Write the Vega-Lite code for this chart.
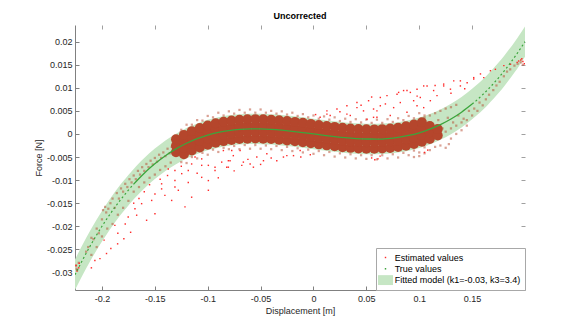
{
  "$schema": "https://vega.github.io/schema/vega-lite/v6.json",
  "autosize": "none",
  "width": 450,
  "height": 265,
  "padding": {"left": 75, "top": 25, "right": 56, "bottom": 37},
  "title": {"text": "Uncorrected", "fontSize": 9, "font": "Liberation Sans", "fontWeight": "bold", "color": "#000000", "offset": 4},
  "config": {
    "view": {"stroke": null},
    "axis": {"labelFont": "Liberation Sans", "labelFontSize": 9, "labelColor": "#262626", "titleFont": "Liberation Sans", "titleFontSize": 9, "titleFontWeight": "normal", "titleColor": "#262626", "domainColor": "#808080", "tickColor": "#808080", "grid": false},
    "legend": {"orient": "bottom-right", "offset": 0, "padding": 4, "strokeColor": "#a8a8a8", "fillColor": "#ffffff", "labelFont": "Liberation Sans", "labelFontSize": 9, "labelColor": "#000000", "labelOffset": 3.7, "rowPadding": 0.3, "symbolSize": 121, "symbolStrokeWidth": 0, "labelLimit": 0, "symbolOpacity": 1}
  },
  "datasets": {
    "curve": [
      {"x": -0.2255, "c": -0.0305, "lo": -0.0338, "hi": -0.0272},
      {"x": -0.22, "c": -0.02801, "lo": -0.03131, "hi": -0.02471},
      {"x": -0.215, "c": -0.02585, "lo": -0.02915, "hi": -0.02255},
      {"x": -0.21, "c": -0.0238, "lo": -0.0271, "hi": -0.0205},
      {"x": -0.205, "c": -0.02185, "lo": -0.02515, "hi": -0.01855},
      {"x": -0.2, "c": -0.02, "lo": -0.0233, "hi": -0.0167},
      {"x": -0.195, "c": -0.01825, "lo": -0.02155, "hi": -0.01495},
      {"x": -0.19, "c": -0.01659, "lo": -0.01989, "hi": -0.01329},
      {"x": -0.185, "c": -0.01503, "lo": -0.01833, "hi": -0.01173},
      {"x": -0.18, "c": -0.01355, "lo": -0.01685, "hi": -0.01025},
      {"x": -0.175, "c": -0.01217, "lo": -0.01547, "hi": -0.00887},
      {"x": -0.17, "c": -0.01087, "lo": -0.01417, "hi": -0.00757},
      {"x": -0.165, "c": -0.00965, "lo": -0.01295, "hi": -0.00635},
      {"x": -0.16, "c": -0.00851, "lo": -0.01181, "hi": -0.00521},
      {"x": -0.155, "c": -0.00745, "lo": -0.01075, "hi": -0.00415},
      {"x": -0.15, "c": -0.00647, "lo": -0.00977, "hi": -0.00317},
      {"x": -0.14, "c": -0.00472, "lo": -0.00802, "hi": -0.00142},
      {"x": -0.13, "c": -0.00324, "lo": -0.00654, "hi": 0.00006},
      {"x": -0.12, "c": -0.00202, "lo": -0.00532, "hi": 0.00128},
      {"x": -0.11, "c": -0.00103, "lo": -0.00433, "hi": 0.00227},
      {"x": -0.1, "c": -0.00025, "lo": -0.00355, "hi": 0.00305},
      {"x": -0.09, "c": 0.00033, "lo": -0.00297, "hi": 0.00363},
      {"x": -0.08, "c": 0.00074, "lo": -0.00256, "hi": 0.00404},
      {"x": -0.07, "c": 0.00099, "lo": -0.00231, "hi": 0.00429},
      {"x": -0.06, "c": 0.0011, "lo": -0.0022, "hi": 0.0044},
      {"x": -0.05, "c": 0.00109, "lo": -0.00221, "hi": 0.00439},
      {"x": -0.04, "c": 0.00099, "lo": -0.00231, "hi": 0.00429},
      {"x": -0.03, "c": 0.00081, "lo": -0.00249, "hi": 0.00411},
      {"x": -0.02, "c": 0.00057, "lo": -0.00273, "hi": 0.00387},
      {"x": -0.01, "c": 0.0003, "lo": -0.003, "hi": 0.0036},
      {"x": 0, "c": 0, "lo": -0.0033, "hi": 0.0033},
      {"x": 0.01, "c": -0.0003, "lo": -0.0036, "hi": 0.003},
      {"x": 0.02, "c": -0.00057, "lo": -0.00387, "hi": 0.00273},
      {"x": 0.03, "c": -0.00081, "lo": -0.00411, "hi": 0.00249},
      {"x": 0.04, "c": -0.00099, "lo": -0.00429, "hi": 0.00231},
      {"x": 0.05, "c": -0.00109, "lo": -0.00439, "hi": 0.00221},
      {"x": 0.06, "c": -0.0011, "lo": -0.0044, "hi": 0.0022},
      {"x": 0.07, "c": -0.00099, "lo": -0.00429, "hi": 0.00231},
      {"x": 0.08, "c": -0.00074, "lo": -0.00404, "hi": 0.00256},
      {"x": 0.09, "c": -0.00033, "lo": -0.00363, "hi": 0.00297},
      {"x": 0.1, "c": 0.00025, "lo": -0.00305, "hi": 0.00355},
      {"x": 0.11, "c": 0.00103, "lo": -0.00227, "hi": 0.00433},
      {"x": 0.12, "c": 0.00202, "lo": -0.00128, "hi": 0.00532},
      {"x": 0.13, "c": 0.00324, "lo": -0.00006, "hi": 0.00654},
      {"x": 0.14, "c": 0.00472, "lo": 0.00142, "hi": 0.00802},
      {"x": 0.15, "c": 0.00647, "lo": 0.00317, "hi": 0.00977},
      {"x": 0.155, "c": 0.00745, "lo": 0.00415, "hi": 0.01075},
      {"x": 0.16, "c": 0.00851, "lo": 0.00521, "hi": 0.01181},
      {"x": 0.165, "c": 0.00965, "lo": 0.00635, "hi": 0.01295},
      {"x": 0.17, "c": 0.01087, "lo": 0.00757, "hi": 0.01417},
      {"x": 0.175, "c": 0.01217, "lo": 0.00887, "hi": 0.01547},
      {"x": 0.18, "c": 0.01355, "lo": 0.01025, "hi": 0.01685},
      {"x": 0.185, "c": 0.01503, "lo": 0.01173, "hi": 0.01833},
      {"x": 0.19, "c": 0.01659, "lo": 0.01329, "hi": 0.01989},
      {"x": 0.195, "c": 0.01825, "lo": 0.01495, "hi": 0.02155},
      {"x": 0.2, "c": 0.02, "lo": 0.0167, "hi": 0.0233}
    ],
    "core": [
      {"x": -0.13, "y": -0.00394}, {"x": -0.13, "y": -0.00254}, {"x": -0.13, "y": -0.00114},
      {"x": -0.1225, "y": -0.0044}, {"x": -0.1225, "y": -0.003}, {"x": -0.1225, "y": -0.0016}, {"x": -0.1225, "y": -0.0002},
      {"x": -0.115, "y": -0.00359}, {"x": -0.115, "y": -0.00219}, {"x": -0.115, "y": -0.00079}, {"x": -0.115, "y": 0.00061},
      {"x": -0.1075, "y": -0.00291}, {"x": -0.1075, "y": -0.00151}, {"x": -0.1075, "y": -0.00011}, {"x": -0.1075, "y": 0.00129},
      {"x": -0.1, "y": -0.00235}, {"x": -0.1, "y": -0.00095}, {"x": -0.1, "y": 0.00045}, {"x": -0.1, "y": 0.00185},
      {"x": -0.0925, "y": -0.0019}, {"x": -0.0925, "y": -0.0005}, {"x": -0.0925, "y": 0.0009}, {"x": -0.0925, "y": 0.0023},
      {"x": -0.085, "y": -0.00155}, {"x": -0.085, "y": -0.00015}, {"x": -0.085, "y": 0.00125}, {"x": -0.085, "y": 0.00265},
      {"x": -0.0775, "y": -0.00129}, {"x": -0.0775, "y": 0.00011}, {"x": -0.0775, "y": 0.00151}, {"x": -0.0775, "y": 0.00291},
      {"x": -0.07, "y": -0.00111}, {"x": -0.07, "y": 0.00029}, {"x": -0.07, "y": 0.00169}, {"x": -0.07, "y": 0.00309},
      {"x": -0.0625, "y": -0.00102}, {"x": -0.0625, "y": 0.00038}, {"x": -0.0625, "y": 0.00178}, {"x": -0.0625, "y": 0.00318},
      {"x": -0.055, "y": -0.00099}, {"x": -0.055, "y": 0.00041}, {"x": -0.055, "y": 0.00181}, {"x": -0.055, "y": 0.00321},
      {"x": -0.0475, "y": -0.00102}, {"x": -0.0475, "y": 0.00038}, {"x": -0.0475, "y": 0.00178}, {"x": -0.0475, "y": 0.00318},
      {"x": -0.04, "y": -0.00111}, {"x": -0.04, "y": 0.00029}, {"x": -0.04, "y": 0.00169}, {"x": -0.04, "y": 0.00309},
      {"x": -0.0325, "y": -0.00124}, {"x": -0.0325, "y": 0.00016}, {"x": -0.0325, "y": 0.00156}, {"x": -0.0325, "y": 0.00296},
      {"x": -0.025, "y": -0.0014}, {"x": -0.025, "y": 0.0}, {"x": -0.025, "y": 0.0014}, {"x": -0.025, "y": 0.0028},
      {"x": -0.0175, "y": -0.00159}, {"x": -0.0175, "y": -0.00019}, {"x": -0.0175, "y": 0.00121}, {"x": -0.0175, "y": 0.00261},
      {"x": -0.01, "y": -0.0018}, {"x": -0.01, "y": -0.0004}, {"x": -0.01, "y": 0.001}, {"x": -0.01, "y": 0.0024},
      {"x": -0.0025, "y": -0.00202}, {"x": -0.0025, "y": -0.00062}, {"x": -0.0025, "y": 0.00078}, {"x": -0.0025, "y": 0.00218},
      {"x": 0.005, "y": -0.00225}, {"x": 0.005, "y": -0.00085}, {"x": 0.005, "y": 0.00055}, {"x": 0.005, "y": 0.00195},
      {"x": 0.0125, "y": -0.00247}, {"x": 0.0125, "y": -0.00107}, {"x": 0.0125, "y": 0.00033}, {"x": 0.0125, "y": 0.00173},
      {"x": 0.02, "y": -0.00267}, {"x": 0.02, "y": -0.00127}, {"x": 0.02, "y": 0.00013}, {"x": 0.02, "y": 0.00153},
      {"x": 0.0275, "y": -0.00286}, {"x": 0.0275, "y": -0.00146}, {"x": 0.0275, "y": -0.00006}, {"x": 0.0275, "y": 0.00134},
      {"x": 0.035, "y": -0.00301}, {"x": 0.035, "y": -0.00161}, {"x": 0.035, "y": -0.00021}, {"x": 0.035, "y": 0.00119},
      {"x": 0.0425, "y": -0.00313}, {"x": 0.0425, "y": -0.00173}, {"x": 0.0425, "y": -0.00033}, {"x": 0.0425, "y": 0.00107},
      {"x": 0.05, "y": -0.00319}, {"x": 0.05, "y": -0.00179}, {"x": 0.05, "y": -0.00039}, {"x": 0.05, "y": 0.00101},
      {"x": 0.0575, "y": -0.00321}, {"x": 0.0575, "y": -0.00181}, {"x": 0.0575, "y": -0.00041}, {"x": 0.0575, "y": 0.00099},
      {"x": 0.065, "y": -0.00316}, {"x": 0.065, "y": -0.00176}, {"x": 0.065, "y": -0.00036}, {"x": 0.065, "y": 0.00104},
      {"x": 0.0725, "y": -0.00304}, {"x": 0.0725, "y": -0.00164}, {"x": 0.0725, "y": -0.00024}, {"x": 0.0725, "y": 0.00116},
      {"x": 0.08, "y": -0.00284}, {"x": 0.08, "y": -0.00144}, {"x": 0.08, "y": -0.00004}, {"x": 0.08, "y": 0.00136},
      {"x": 0.0875, "y": -0.00255}, {"x": 0.0875, "y": -0.00115}, {"x": 0.0875, "y": 0.00025}, {"x": 0.0875, "y": 0.00165},
      {"x": 0.095, "y": -0.00216}, {"x": 0.095, "y": -0.00076}, {"x": 0.095, "y": 0.00064}, {"x": 0.095, "y": 0.00204},
      {"x": 0.1025, "y": -0.00167}, {"x": 0.1025, "y": -0.00027}, {"x": 0.1025, "y": 0.00113}, {"x": 0.1025, "y": 0.00253},
      {"x": 0.11, "y": -0.00107}, {"x": 0.11, "y": 0.00033}, {"x": 0.11, "y": 0.00173},
      {"x": 0.1175, "y": -0.00035}, {"x": 0.1175, "y": 0.00105}
    ],
    "edge": [
      {"x": -0.125, "y": 0.0009}, {"x": -0.12, "y": 0.002}, {"x": -0.115, "y": 0.002}, {"x": -0.11, "y": 0.003},
      {"x": -0.105, "y": 0.0029}, {"x": -0.1, "y": 0.0039}, {"x": -0.095, "y": 0.0036}, {"x": -0.09, "y": 0.0046},
      {"x": -0.085, "y": 0.004}, {"x": -0.08, "y": 0.0049}, {"x": -0.075, "y": 0.0044}, {"x": -0.07, "y": 0.0052},
      {"x": -0.065, "y": 0.0046}, {"x": -0.06, "y": 0.0053}, {"x": -0.055, "y": 0.0046}, {"x": -0.05, "y": 0.0053},
      {"x": -0.045, "y": 0.0046}, {"x": -0.04, "y": 0.005}, {"x": -0.035, "y": 0.0044}, {"x": -0.03, "y": 0.0049},
      {"x": -0.025, "y": 0.0042}, {"x": -0.02, "y": 0.0046}, {"x": -0.015, "y": 0.0039}, {"x": -0.01, "y": 0.0043},
      {"x": -0.005, "y": 0.0036}, {"x": 0.0, "y": 0.004}, {"x": 0.005, "y": 0.0033}, {"x": 0.01, "y": 0.0038},
      {"x": 0.015, "y": 0.0031}, {"x": 0.02, "y": 0.0036}, {"x": 0.025, "y": 0.0028}, {"x": 0.03, "y": 0.0033},
      {"x": 0.035, "y": 0.0026}, {"x": 0.04, "y": 0.0032}, {"x": 0.045, "y": 0.0025}, {"x": 0.05, "y": 0.0031},
      {"x": 0.055, "y": 0.0024}, {"x": 0.06, "y": 0.0031}, {"x": 0.065, "y": 0.0024}, {"x": 0.07, "y": 0.0032},
      {"x": 0.075, "y": 0.0026}, {"x": 0.08, "y": 0.0034}, {"x": 0.085, "y": 0.003}, {"x": 0.09, "y": 0.0039},
      {"x": 0.095, "y": 0.0034}, {"x": 0.1, "y": 0.0045}, {"x": 0.105, "y": 0.004},
      {"x": -0.125, "y": -0.0061}, {"x": -0.12, "y": -0.0063}, {"x": -0.115, "y": -0.005}, {"x": -0.11, "y": -0.0053},
      {"x": -0.105, "y": -0.0041}, {"x": -0.1, "y": -0.0045}, {"x": -0.095, "y": -0.0034}, {"x": -0.09, "y": -0.0039},
      {"x": -0.085, "y": -0.003}, {"x": -0.08, "y": -0.0033}, {"x": -0.075, "y": -0.0026}, {"x": -0.07, "y": -0.0033},
      {"x": -0.065, "y": -0.0024}, {"x": -0.06, "y": -0.0032}, {"x": -0.055, "y": -0.0024}, {"x": -0.05, "y": -0.0032},
      {"x": -0.045, "y": -0.0025}, {"x": -0.04, "y": -0.0033}, {"x": -0.035, "y": -0.0026}, {"x": -0.03, "y": -0.0035},
      {"x": -0.025, "y": -0.0028}, {"x": -0.02, "y": -0.0037}, {"x": -0.015, "y": -0.0031}, {"x": -0.01, "y": -0.004},
      {"x": -0.005, "y": -0.0034}, {"x": 0.0, "y": -0.0043}, {"x": 0.005, "y": -0.0037}, {"x": 0.01, "y": -0.0046},
      {"x": 0.015, "y": -0.0039}, {"x": 0.02, "y": -0.0049}, {"x": 0.025, "y": -0.0042}, {"x": 0.03, "y": -0.0051},
      {"x": 0.035, "y": -0.0044}, {"x": 0.04, "y": -0.0053}, {"x": 0.045, "y": -0.0046}, {"x": 0.05, "y": -0.0054},
      {"x": 0.055, "y": -0.0046}, {"x": 0.06, "y": -0.0055}, {"x": 0.065, "y": -0.0046}, {"x": 0.07, "y": -0.0053},
      {"x": 0.075, "y": -0.0044}, {"x": 0.08, "y": -0.0051}, {"x": 0.085, "y": -0.0041}, {"x": 0.09, "y": -0.0046},
      {"x": 0.095, "y": -0.0036}, {"x": 0.1, "y": -0.004}, {"x": 0.105, "y": -0.0029},
      {"x": -0.224, "y": -0.0292}, {"x": -0.2245, "y": -0.0285}, {"x": -0.2235, "y": -0.0295}, {"x": -0.222, "y": -0.0279},
      {"x": -0.215, "y": -0.0255}, {"x": -0.213, "y": -0.0245}, {"x": -0.21, "y": -0.0225}, {"x": -0.208, "y": -0.0228},
      {"x": -0.205, "y": -0.0205}, {"x": -0.203, "y": -0.0215}, {"x": -0.2, "y": -0.0185}, {"x": -0.199, "y": -0.0165},
      {"x": -0.197, "y": -0.0158}, {"x": -0.196, "y": -0.017}, {"x": -0.194, "y": -0.0162}, {"x": -0.192, "y": -0.015},
      {"x": -0.19, "y": -0.014}, {"x": -0.188, "y": -0.016}, {"x": -0.186, "y": -0.0128}, {"x": -0.184, "y": -0.014},
      {"x": -0.182, "y": -0.0118}, {"x": -0.18, "y": -0.0125}, {"x": -0.178, "y": -0.0108}, {"x": -0.176, "y": -0.0115},
      {"x": -0.174, "y": -0.0098}, {"x": -0.172, "y": -0.0105}, {"x": -0.17, "y": -0.009}, {"x": -0.168, "y": -0.0098},
      {"x": -0.166, "y": -0.008}, {"x": -0.164, "y": -0.0088}, {"x": -0.162, "y": -0.0072}, {"x": -0.16, "y": -0.008},
      {"x": -0.158, "y": -0.0065}, {"x": -0.156, "y": -0.0072}, {"x": -0.154, "y": -0.0058}, {"x": -0.152, "y": -0.0066},
      {"x": -0.15, "y": -0.0052}, {"x": -0.148, "y": -0.006}, {"x": -0.146, "y": -0.0045}, {"x": -0.144, "y": -0.0052},
      {"x": -0.142, "y": -0.004}, {"x": -0.14, "y": -0.0048}, {"x": -0.138, "y": -0.0032}, {"x": -0.136, "y": -0.0042},
      {"x": -0.134, "y": -0.0028},
      {"x": -0.19, "y": -0.0195}, {"x": -0.185, "y": -0.0175}, {"x": -0.18, "y": -0.016}, {"x": -0.175, "y": -0.0145},
      {"x": -0.17, "y": -0.0125}, {"x": -0.165, "y": -0.0115}, {"x": -0.16, "y": -0.0105}, {"x": -0.155, "y": -0.0095},
      {"x": -0.15, "y": -0.0088}, {"x": -0.145, "y": -0.0078}, {"x": -0.14, "y": -0.007}, {"x": -0.135, "y": -0.0062},
      {"x": -0.21, "y": -0.0262}, {"x": -0.205, "y": -0.0245}, {"x": -0.2, "y": -0.0222}, {"x": -0.195, "y": -0.0205},
      {"x": 0.11, "y": -0.0005}, {"x": 0.112, "y": 0.0022}, {"x": 0.115, "y": 0.0003}, {"x": 0.118, "y": 0.003},
      {"x": 0.12, "y": -0.0002}, {"x": 0.122, "y": 0.0012}, {"x": 0.125, "y": 0.0005}, {"x": 0.127, "y": 0.0035},
      {"x": 0.13, "y": 0.0012}, {"x": 0.132, "y": 0.0025}, {"x": 0.135, "y": 0.0018}, {"x": 0.137, "y": 0.004},
      {"x": 0.14, "y": 0.0025}, {"x": 0.142, "y": 0.0033}, {"x": 0.145, "y": 0.003}, {"x": 0.147, "y": 0.005},
      {"x": 0.15, "y": 0.004}, {"x": 0.152, "y": 0.0055}, {"x": 0.155, "y": 0.005}, {"x": 0.157, "y": 0.0068},
      {"x": 0.16, "y": 0.0062}, {"x": 0.163, "y": 0.0075}, {"x": 0.166, "y": 0.0085}, {"x": 0.17, "y": 0.0095},
      {"x": 0.173, "y": 0.0105}, {"x": 0.176, "y": 0.0113}, {"x": 0.18, "y": 0.0125}, {"x": 0.183, "y": 0.0135},
      {"x": 0.186, "y": 0.014}, {"x": 0.19, "y": 0.0148}, {"x": 0.193, "y": 0.0152}, {"x": 0.196, "y": 0.0155},
      {"x": 0.198, "y": 0.015}, {"x": 0.12, "y": -0.0025}, {"x": 0.125, "y": -0.003}, {"x": 0.13, "y": -0.001},
      {"x": 0.128, "y": -0.0022}, {"x": 0.135, "y": 0.0}, {"x": 0.14, "y": 0.0008}, {"x": 0.145, "y": 0.0018},
      {"x": 0.115, "y": -0.0028}, {"x": 0.11, "y": -0.0035}, {"x": 0.105, "y": -0.0042}, {"x": 0.1, "y": -0.0048},
      {"x": 0.095, "y": -0.005}, {"x": 0.11, "y": 0.004}, {"x": 0.115, "y": 0.0045}, {"x": 0.12, "y": 0.005},
      {"x": 0.125, "y": 0.0055}, {"x": 0.13, "y": 0.0058}, {"x": 0.135, "y": 0.0063}, {"x": 0.105, "y": 0.0035}
    ],
    "sparse": [
      {"x": -0.2067, "y": -0.0274}, {"x": -0.2019, "y": -0.027}, {"x": -0.1957, "y": -0.0259}, {"x": -0.1916, "y": -0.0248},
      {"x": -0.1852, "y": -0.0238}, {"x": -0.1793, "y": -0.0227}, {"x": -0.1729, "y": -0.0213}, {"x": -0.1878, "y": -0.0198},
      {"x": -0.1752, "y": -0.018}, {"x": -0.1672, "y": -0.0176}, {"x": -0.1578, "y": -0.0187}, {"x": -0.1499, "y": -0.0173},
      {"x": -0.1688, "y": -0.0162}, {"x": -0.1625, "y": -0.0151}, {"x": -0.1215, "y": -0.0158}, {"x": -0.153, "y": -0.0144},
      {"x": -0.1341, "y": -0.0144}, {"x": -0.1152, "y": -0.0137}, {"x": -0.1405, "y": -0.0133}, {"x": -0.1499, "y": -0.013},
      {"x": -0.1436, "y": -0.0119}, {"x": -0.1278, "y": -0.0122}, {"x": -0.0994, "y": -0.0122}, {"x": -0.131, "y": -0.0115},
      {"x": -0.1436, "y": -0.0108}, {"x": -0.1184, "y": -0.0105}, {"x": -0.131, "y": -0.0101}, {"x": -0.0994, "y": -0.0101},
      {"x": -0.1057, "y": -0.0094}, {"x": -0.1246, "y": -0.0086}, {"x": -0.0931, "y": -0.0079}, {"x": -0.131, "y": -0.0079},
      {"x": -0.1184, "y": -0.0079}, {"x": -0.1373, "y": -0.0076}, {"x": -0.0805, "y": -0.0072}, {"x": -0.0931, "y": -0.0072},
      {"x": -0.0678, "y": -0.0068}, {"x": -0.0994, "y": -0.0068}, {"x": -0.1057, "y": -0.0068}, {"x": -0.0599, "y": -0.0065},
      {"x": -0.1152, "y": -0.0065}, {"x": -0.0868, "y": -0.0061}, {"x": -0.0805, "y": -0.0058}, {"x": -0.1057, "y": -0.0054},
      {"x": -0.112, "y": -0.005}, {"x": -0.0773, "y": -0.0036},
      {"x": -0.0852, "y": -0.0036}, {"x": -0.0758, "y": -0.0047}, {"x": -0.0789, "y": -0.0058}, {"x": -0.0663, "y": -0.0061},
      {"x": -0.0536, "y": -0.005}, {"x": -0.0441, "y": -0.0043}, {"x": -0.0347, "y": -0.0058}, {"x": -0.0252, "y": -0.0047},
      {"x": -0.0568, "y": -0.0072}, {"x": -0.0694, "y": -0.0036}, {"x": -0.0473, "y": -0.0058}, {"x": -0.0126, "y": -0.0036},
      {"x": -0.082, "y": -0.0072}, {"x": -0.0284, "y": -0.005}, {"x": -0.0189, "y": -0.0047},
      {"x": -0.16, "y": -0.0125}, {"x": -0.145, "y": -0.0098}, {"x": -0.138, "y": -0.009}, {"x": -0.125, "y": -0.007},
      {"x": -0.11, "y": -0.0085}, {"x": -0.09, "y": -0.0095}, {"x": -0.075, "y": -0.008}, {"x": -0.062, "y": -0.0055},
      {"x": -0.05, "y": -0.0066}, {"x": -0.04, "y": -0.0052}, {"x": -0.185, "y": -0.0215}, {"x": -0.178, "y": -0.0195},
      {"x": -0.165, "y": -0.014}, {"x": -0.155, "y": -0.011}, {"x": -0.21, "y": -0.029}, {"x": -0.198, "y": -0.023},
      {"x": -0.17, "y": -0.015}, {"x": -0.012, "y": -0.005}, {"x": -0.003, "y": -0.0045},
      {"x": 0.0063, "y": 0.0036}, {"x": 0.0127, "y": 0.005}, {"x": 0.0127, "y": 0.0043}, {"x": 0.0158, "y": 0.004},
      {"x": 0.0222, "y": 0.0054}, {"x": 0.0316, "y": 0.0061}, {"x": 0.0316, "y": 0.0043}, {"x": 0.0348, "y": 0.004},
      {"x": 0.0411, "y": 0.0068}, {"x": 0.0411, "y": 0.0057}, {"x": 0.0473, "y": 0.005}, {"x": 0.0506, "y": 0.0032},
      {"x": 0.0521, "y": 0.0072}, {"x": 0.0568, "y": 0.0054}, {"x": 0.0568, "y": 0.0036}, {"x": 0.06, "y": 0.0036},
      {"x": 0.06, "y": 0.005}, {"x": 0.0632, "y": 0.0061}, {"x": 0.0632, "y": 0.0079}, {"x": 0.0695, "y": 0.0083},
      {"x": 0.0726, "y": 0.004}, {"x": 0.0758, "y": 0.0057}, {"x": 0.079, "y": 0.0086}, {"x": 0.0805, "y": 0.009},
      {"x": 0.0821, "y": 0.0068}, {"x": 0.0852, "y": 0.0094}, {"x": 0.0884, "y": 0.0047}, {"x": 0.0884, "y": 0.0094},
      {"x": 0.0916, "y": 0.009}, {"x": 0.0947, "y": 0.0072}, {"x": 0.0979, "y": 0.0061}, {"x": 0.0979, "y": 0.0097},
      {"x": 0.101, "y": 0.0079}, {"x": 0.1042, "y": 0.0104}, {"x": 0.1042, "y": 0.0057}, {"x": 0.1074, "y": 0.0104},
      {"x": 0.1105, "y": 0.0072}, {"x": 0.1136, "y": 0.0094}, {"x": 0.1168, "y": 0.0083}, {"x": 0.1231, "y": 0.0104},
      {"x": 0.1231, "y": 0.0108}, {"x": 0.1295, "y": 0.0097}, {"x": 0.1326, "y": 0.0115}, {"x": 0.1389, "y": 0.0104},
      {"x": 0.1389, "y": 0.0115}, {"x": 0.1453, "y": 0.0111}, {"x": 0.1515, "y": 0.0122}, {"x": 0.1515, "y": 0.0119},
      {"x": 0.1579, "y": 0.013}, {"x": 0.161, "y": 0.0122}, {"x": 0.1673, "y": 0.0137}, {"x": 0.18, "y": 0.0148},
      {"x": 0.1863, "y": 0.0151}, {"x": 0.1926, "y": 0.0155},
      {"x": 0.025, "y": 0.0048}, {"x": 0.045, "y": 0.0062}, {"x": 0.068, "y": 0.0065}, {"x": 0.115, "y": 0.0105},
      {"x": 0.13, "y": 0.0088}, {"x": 0.143, "y": 0.0098}, {"x": 0.172, "y": 0.014}, {"x": 0.098, "y": 0.0082},
      {"x": 0.002, "y": 0.0042}, {"x": 0.055, "y": 0.008},
      {"x": 0.055, "y": -0.0052}, {"x": 0.058, "y": -0.0056}, {"x": 0.061, "y": -0.0054}, {"x": 0.063, "y": -0.0048},
      {"x": 0.105, "y": -0.004}, {"x": 0.108, "y": -0.0035}, {"x": 0.196, "y": 0.016}, {"x": 0.198, "y": 0.0157},
      {"x": 0.1995, "y": 0.0152}, {"x": 0.197, "y": 0.0163}, {"x": 0.194, "y": 0.0158},
      {"x": -0.2245, "y": -0.0285}, {"x": -0.2235, "y": -0.0297}, {"x": -0.222, "y": -0.029}, {"x": -0.2215, "y": -0.028}
    ]
  },
  "resolve": {"axis": {"x": "independent", "y": "independent"}},
  "layer": [
    {
      "data": {"name": "curve"},
      "mark": {"type": "area", "color": "#c6e6c4", "opacity": 1, "interpolate": "monotone", "clip": true},
      "encoding": {
        "x": {"field": "x", "type": "quantitative", "scale": {"domain": [-0.2255, 0.2], "nice": false, "zero": false},
          "axis": {"orient": "bottom", "values": [-0.2, -0.15, -0.1, -0.05, 0, 0.05, 0.1, 0.15], "format": "~g", "labelExpr": "replace(datum.label, '\u2212', '-')", "title": "Displacement [m]", "tickSize": -4, "labelPadding": 8, "titlePadding": 3, "domainColor": "#808080"}},
        "y": {"field": "lo", "type": "quantitative", "scale": {"domain": [-0.0338, 0.0236], "nice": false, "zero": false},
          "axis": {"orient": "left", "values": [-0.03, -0.025, -0.02, -0.015, -0.01, -0.005, 0, 0.005, 0.01, 0.015, 0.02], "format": "~g", "labelExpr": "replace(datum.label, '\u2212', '-')", "title": "Force [N]", "tickSize": -4, "labelPadding": 7, "titlePadding": 3}},
        "y2": {"field": "hi"}
      }
    },
    {
      "data": {"name": "edge"},
      "mark": {"type": "point", "shape": "square", "filled": true, "size": 5, "color": "#b5462c", "opacity": 0.5, "clip": true},
      "encoding": {
        "x": {"field": "x", "type": "quantitative", "scale": {"domain": [-0.2255, 0.2], "nice": false, "zero": false}, "axis": null},
        "y": {"field": "y", "type": "quantitative", "scale": {"domain": [-0.0338, 0.0236], "nice": false, "zero": false}, "axis": null}
      }
    },
    {
      "data": {"name": "core"},
      "mark": {"type": "point", "shape": "circle", "filled": true, "size": 100, "color": "#b5462c", "opacity": 1, "strokeWidth": 0, "clip": true},
      "encoding": {
        "x": {"field": "x", "type": "quantitative", "scale": {"domain": [-0.2255, 0.2], "nice": false, "zero": false},
          "axis": {"orient": "top", "values": [-0.2, -0.15, -0.1, -0.05, 0, 0.05, 0.1, 0.15], "labels": false, "domain": false, "title": null, "tickSize": -4, "tickColor": "#a0a0a0"}},
        "y": {"field": "y", "type": "quantitative", "scale": {"domain": [-0.0338, 0.0236], "nice": false, "zero": false},
          "axis": {"orient": "right", "values": [-0.03, -0.025, -0.02, -0.015, -0.01, -0.005, 0, 0.005, 0.01, 0.015, 0.02], "labels": false, "domain": false, "title": null, "tickSize": -4, "tickColor": "#a0a0a0"}}
      }
    },
    {
      "data": {"name": "sparse"},
      "mark": {"type": "point", "filled": true, "size": 121, "opacity": 1, "clip": true},
      "encoding": {
        "x": {"field": "x", "type": "quantitative", "scale": {"domain": [-0.2255, 0.2], "nice": false, "zero": false}, "axis": null},
        "y": {"field": "y", "type": "quantitative", "scale": {"domain": [-0.0338, 0.0236], "nice": false, "zero": false}, "axis": null},
        "color": {"datum": "Estimated values", "type": "nominal",
          "scale": {"domain": ["Estimated values", "True values", "Fitted model (k1=-0.03, k3=3.4)"], "range": ["#ff2a2a", "#2f9e2f", "#c6e6c4"]},
          "legend": {"title": null}},
        "shape": {"datum": "Estimated values", "type": "nominal",
          "scale": {"domain": ["Estimated values", "True values", "Fitted model (k1=-0.03, k3=3.4)"], "range": ["M-0.13,-0.13h0.26v0.26h-0.26z", "M-0.13,-0.13h0.26v0.26h-0.26z", "M-1.36,-0.9h2.72v1.8h-2.72z"]},
          "legend": {"title": null}}
      }
    },
    {
      "data": {"name": "curve"},
      "transform": [{"filter": "datum.x >= -0.17 && datum.x <= 0.15"}],
      "mark": {"type": "line", "color": "#3ca53c", "strokeWidth": 1.3, "interpolate": "monotone", "clip": true},
      "encoding": {
        "x": {"field": "x", "type": "quantitative", "scale": {"domain": [-0.2255, 0.2], "nice": false, "zero": false}, "axis": null},
        "y": {"field": "c", "type": "quantitative", "scale": {"domain": [-0.0338, 0.0236], "nice": false, "zero": false}, "axis": null}
      }
    },
    {
      "data": {"name": "curve"},
      "transform": [{"filter": "datum.x <= -0.17"}],
      "mark": {"type": "line", "color": "#3ca53c", "strokeWidth": 1.2, "strokeDash": [2, 2.5], "interpolate": "monotone", "clip": true},
      "encoding": {
        "x": {"field": "x", "type": "quantitative", "scale": {"domain": [-0.2255, 0.2], "nice": false, "zero": false}, "axis": null},
        "y": {"field": "c", "type": "quantitative", "scale": {"domain": [-0.0338, 0.0236], "nice": false, "zero": false}, "axis": null}
      }
    },
    {
      "data": {"name": "curve"},
      "transform": [{"filter": "datum.x >= 0.15"}],
      "mark": {"type": "line", "color": "#3ca53c", "strokeWidth": 1.2, "strokeDash": [2, 2.5], "interpolate": "monotone", "clip": true},
      "encoding": {
        "x": {"field": "x", "type": "quantitative", "scale": {"domain": [-0.2255, 0.2], "nice": false, "zero": false}, "axis": null},
        "y": {"field": "c", "type": "quantitative", "scale": {"domain": [-0.0338, 0.0236], "nice": false, "zero": false}, "axis": null}
      }
    }
  ]
}
